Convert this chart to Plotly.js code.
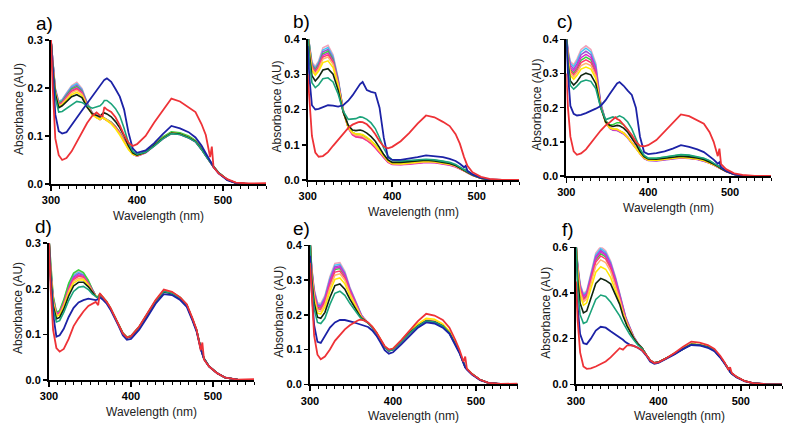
<!DOCTYPE html>
<html><head><meta charset="utf-8">
<script src="https://cdn.plot.ly/plotly-3.0.1.min.js"></script>
<style>html,body{margin:0;padding:0;background:#fff}#chart{width:800px;height:431px}</style>
</head><body><div id="chart"></div>
<script>
// Wavelength grid (nm)
const wavelength = [300,302,305,309,313,318,324,330,336,342,348,353,357,360,362,365,370,375,380,385,390,395,400,410,420,430,440,450,460,468,475,480,485,487,489,495,505,515,530,550];

// ---- Panel a ----
const aPink    = [0.300,0.255,0.200,0.172,0.176,0.190,0.205,0.212,0.199,0.170,0.149, 0.141,0.136,0.139,0.137,0.134,0.128,0.119,0.107,0.091,0.075,0.063,0.059,0.066,0.080,0.095,0.106,0.104,0.097,0.089,0.073,0.059,0.045,0.041,0.036,0.023,0.009,0.002,0,0];
const aCyan    = [0.300,0.253,0.198,0.171,0.175,0.188,0.203,0.209,0.197,0.169,0.148, 0.140,0.135,0.139,0.137,0.134,0.128,0.118,0.106,0.090,0.075,0.063,0.059,0.066,0.080,0.095,0.106,0.104,0.097,0.089,0.073,0.059,0.045,0.041,0.036,0.023,0.009,0.002,0,0];
const aPurple  = [0.300,0.252,0.197,0.169,0.173,0.186,0.200,0.206,0.195,0.168,0.147, 0.139,0.134,0.138,0.136,0.133,0.127,0.118,0.106,0.090,0.074,0.062,0.058,0.065,0.079,0.094,0.105,0.103,0.096,0.088,0.072,0.058,0.044,0.040,0.035,0.022,0.009,0.002,0,0];
const aGreen   = [0.300,0.250,0.195,0.168,0.172,0.184,0.198,0.203,0.193,0.167,0.147, 0.140,0.136,0.140,0.138,0.135,0.129,0.120,0.108,0.092,0.076,0.064,0.060,0.068,0.083,0.098,0.109,0.107,0.100,0.091,0.075,0.060,0.046,0.042,0.037,0.024,0.009,0.002,0,0];
const aMagenta = [0.300,0.249,0.194,0.166,0.170,0.182,0.195,0.200,0.191,0.166,0.146, 0.139,0.134,0.138,0.136,0.133,0.127,0.118,0.106,0.090,0.074,0.062,0.058,0.065,0.079,0.094,0.105,0.103,0.096,0.088,0.072,0.058,0.044,0.040,0.035,0.022,0.009,0.002,0,0];
const aCrimson = [0.300,0.248,0.193,0.165,0.169,0.180,0.193,0.198,0.189,0.165,0.146, 0.139,0.135,0.139,0.137,0.134,0.128,0.119,0.107,0.091,0.075,0.063,0.059,0.066,0.080,0.095,0.106,0.104,0.097,0.089,0.073,0.059,0.045,0.041,0.036,0.023,0.009,0.002,0,0];
const aOrange  = [0.300,0.247,0.192,0.163,0.167,0.178,0.190,0.195,0.187,0.164,0.145, 0.139,0.135,0.139,0.137,0.134,0.127,0.117,0.105,0.089,0.074,0.062,0.059,0.066,0.080,0.095,0.106,0.104,0.097,0.089,0.073,0.059,0.045,0.041,0.036,0.023,0.009,0.002,0,0];
const aYellow  = [0.300,0.245,0.190,0.161,0.165,0.175,0.186,0.191,0.184,0.162,0.144, 0.138,0.134,0.138,0.136,0.132,0.125,0.115,0.102,0.087,0.072,0.062,0.059,0.066,0.080,0.095,0.106,0.104,0.097,0.089,0.073,0.059,0.045,0.041,0.036,0.023,0.009,0.002,0,0];
const aBlack   = [0.300,0.243,0.188,0.159,0.163,0.172,0.182,0.186,0.180,0.160,0.146, 0.143,0.140,0.147,0.148,0.146,0.140,0.130,0.117,0.100,0.080,0.065,0.060,0.066,0.080,0.095,0.106,0.104,0.097,0.089,0.073,0.059,0.045,0.041,0.036,0.023,0.009,0.002,0,0];
const aTeal    = [0.300,0.238,0.180,0.150,0.151,0.157,0.166,0.172,0.170,0.163,0.158, 0.161,0.163,0.168,0.174,0.174,0.167,0.157,0.142,0.116,0.086,0.068,0.062,0.066,0.079,0.094,0.105,0.103,0.096,0.088,0.072,0.058,0.045,0.041,0.036,0.023,0.009,0.002,0,0];
const aBlue    = [0.300,0.230,0.145,0.110,0.105,0.108,0.122,0.138,0.153,0.168,0.183, 0.196,0.206,0.213,0.217,0.220,0.213,0.198,0.182,0.155,0.108,0.074,0.065,0.070,0.085,0.104,0.121,0.116,0.108,0.097,0.080,0.064,0.048,0.042,0.036,0.022,0.008,0.002,0,0];
const aRed     = [0.300,0.200,0.095,0.060,0.050,0.054,0.068,0.088,0.108,0.127,0.142, 0.149,0.143,0.141,0.160,0.155,0.150,0.139,0.122,0.102,0.086,0.079,0.083,0.100,0.128,0.152,0.178,0.172,0.160,0.150,0.125,0.102,0.056,0.078,0.035,0.022,0.010,0.003,0.001,0.002];

// ---- Panel b ----
const bPink    = [0.42,0.380,0.335,0.322,0.338,0.375,0.382,0.355,0.290,0.200,0.152, 0.136,0.129,0.128,0.128,0.125,0.118,0.108,0.096,0.080,0.065,0.053,0.047,0.046,0.048,0.051,0.053,0.052,0.049,0.045,0.040,0.034,0.027,0.025,0.022,0.014,0.005,0.001,0,0];
const bCyan    = [0.42,0.378,0.331,0.318,0.334,0.369,0.376,0.350,0.287,0.199,0.151, 0.134,0.128,0.127,0.127,0.124,0.117,0.107,0.095,0.080,0.065,0.053,0.046,0.045,0.047,0.050,0.052,0.051,0.048,0.044,0.039,0.033,0.027,0.025,0.021,0.013,0.005,0.001,0,0];
const bPurple  = [0.42,0.376,0.328,0.315,0.330,0.364,0.370,0.345,0.284,0.198,0.150, 0.133,0.127,0.126,0.126,0.123,0.116,0.106,0.094,0.079,0.064,0.052,0.046,0.045,0.047,0.050,0.052,0.051,0.048,0.044,0.039,0.033,0.027,0.025,0.021,0.013,0.005,0.001,0,0];
const bGreen   = [0.42,0.374,0.325,0.312,0.327,0.358,0.365,0.341,0.281,0.198,0.150, 0.135,0.130,0.130,0.130,0.127,0.120,0.111,0.099,0.084,0.068,0.056,0.050,0.050,0.052,0.055,0.057,0.056,0.053,0.048,0.042,0.036,0.029,0.030,0.023,0.014,0.005,0.001,0,0];
const bMagenta = [0.42,0.372,0.322,0.309,0.324,0.354,0.360,0.337,0.278,0.196,0.147, 0.128,0.122,0.121,0.121,0.119,0.112,0.103,0.091,0.077,0.062,0.050,0.044,0.043,0.045,0.048,0.050,0.049,0.046,0.042,0.037,0.032,0.026,0.024,0.020,0.013,0.005,0.001,0,0];
const bCrimson = [0.42,0.370,0.319,0.306,0.320,0.349,0.355,0.333,0.275,0.195,0.147, 0.129,0.123,0.122,0.122,0.120,0.113,0.104,0.092,0.078,0.063,0.051,0.045,0.044,0.046,0.049,0.051,0.050,0.047,0.043,0.038,0.032,0.026,0.024,0.020,0.013,0.005,0.001,0,0];
const bOrange  = [0.42,0.368,0.316,0.302,0.316,0.343,0.349,0.328,0.272,0.195,0.148, 0.132,0.127,0.127,0.127,0.124,0.117,0.108,0.096,0.081,0.065,0.053,0.046,0.045,0.047,0.050,0.052,0.051,0.048,0.044,0.039,0.033,0.027,0.025,0.021,0.013,0.005,0.001,0,0];
const bYellow  = [0.42,0.364,0.311,0.297,0.309,0.333,0.338,0.319,0.266,0.194,0.149, 0.135,0.131,0.131,0.131,0.129,0.122,0.112,0.099,0.083,0.067,0.054,0.047,0.046,0.048,0.051,0.053,0.052,0.049,0.045,0.040,0.034,0.027,0.025,0.022,0.014,0.005,0.001,0,0];
const bBlack   = [0.42,0.355,0.296,0.281,0.292,0.312,0.316,0.300,0.255,0.192,0.155, 0.142,0.140,0.141,0.142,0.140,0.133,0.123,0.110,0.092,0.072,0.057,0.050,0.050,0.052,0.054,0.056,0.054,0.051,0.047,0.041,0.035,0.028,0.026,0.022,0.014,0.005,0.001,0,0];
const bTeal    = [0.42,0.340,0.276,0.262,0.270,0.287,0.290,0.278,0.244,0.195,0.172, 0.172,0.174,0.177,0.179,0.178,0.172,0.162,0.146,0.120,0.090,0.068,0.057,0.054,0.055,0.057,0.059,0.057,0.054,0.050,0.044,0.037,0.029,0.027,0.023,0.015,0.006,0.001,0,0];
const bBlue    = [0.38,0.290,0.212,0.200,0.202,0.207,0.212,0.211,0.208,0.212,0.225, 0.240,0.255,0.265,0.272,0.278,0.255,0.250,0.247,0.205,0.120,0.064,0.057,0.057,0.060,0.065,0.070,0.068,0.065,0.060,0.054,0.046,0.036,0.040,0.026,0.016,0.006,0.002,0,0];
const bRed     = [0.30,0.220,0.125,0.078,0.066,0.068,0.079,0.097,0.115,0.133,0.148, 0.157,0.162,0.164,0.165,0.164,0.158,0.146,0.130,0.110,0.095,0.090,0.094,0.110,0.133,0.160,0.183,0.178,0.165,0.153,0.130,0.103,0.065,0.050,0.040,0.022,0.009,0.003,0,0];

// ---- Panel c ----
const cPink    = [0.42,0.370,0.335,0.326,0.342,0.370,0.381,0.370,0.330,0.215,0.162, 0.142,0.137,0.137,0.136,0.132,0.126,0.114,0.099,0.083,0.065,0.053,0.047,0.046,0.049,0.053,0.055,0.053,0.050,0.045,0.039,0.033,0.027,0.025,0.022,0.014,0.005,0.001,0,0];
const cCyan    = [0.42,0.366,0.330,0.320,0.336,0.363,0.374,0.363,0.325,0.213,0.161, 0.141,0.136,0.136,0.135,0.131,0.125,0.113,0.098,0.082,0.065,0.053,0.047,0.046,0.049,0.053,0.055,0.053,0.050,0.045,0.039,0.033,0.027,0.025,0.022,0.014,0.005,0.001,0,0];
const cPurple  = [0.42,0.362,0.324,0.313,0.328,0.355,0.365,0.355,0.318,0.211,0.160, 0.139,0.134,0.134,0.133,0.129,0.123,0.111,0.096,0.080,0.063,0.051,0.045,0.044,0.047,0.051,0.053,0.051,0.048,0.043,0.038,0.032,0.026,0.024,0.021,0.013,0.005,0.001,0,0];
const cGreen   = [0.42,0.354,0.312,0.301,0.315,0.339,0.348,0.340,0.306,0.208,0.162, 0.150,0.150,0.153,0.156,0.156,0.150,0.136,0.117,0.096,0.074,0.059,0.052,0.052,0.055,0.059,0.062,0.060,0.056,0.051,0.044,0.037,0.029,0.031,0.023,0.014,0.005,0.001,0,0];
const cMagenta = [0.42,0.357,0.317,0.307,0.321,0.346,0.356,0.347,0.312,0.209,0.159, 0.140,0.135,0.135,0.134,0.130,0.124,0.112,0.097,0.081,0.064,0.052,0.046,0.045,0.048,0.052,0.054,0.052,0.049,0.044,0.038,0.033,0.026,0.024,0.021,0.013,0.005,0.001,0,0];
const cCrimson = [0.42,0.350,0.307,0.296,0.309,0.332,0.340,0.332,0.300,0.206,0.158, 0.141,0.137,0.137,0.136,0.132,0.126,0.114,0.099,0.083,0.065,0.053,0.047,0.046,0.049,0.053,0.055,0.053,0.050,0.045,0.039,0.033,0.027,0.025,0.022,0.014,0.005,0.001,0,0];
const cOrange  = [0.42,0.345,0.301,0.290,0.302,0.323,0.330,0.323,0.293,0.204,0.157, 0.141,0.137,0.137,0.136,0.132,0.125,0.113,0.098,0.082,0.065,0.053,0.047,0.046,0.049,0.053,0.055,0.053,0.050,0.045,0.039,0.033,0.027,0.025,0.022,0.014,0.005,0.001,0,0];
const cYellow  = [0.42,0.340,0.294,0.283,0.294,0.313,0.319,0.313,0.285,0.202,0.157, 0.141,0.138,0.138,0.137,0.133,0.126,0.113,0.097,0.081,0.065,0.053,0.047,0.046,0.049,0.053,0.055,0.053,0.050,0.045,0.039,0.033,0.027,0.025,0.022,0.014,0.005,0.001,0,0];
const cBlack   = [0.42,0.330,0.278,0.266,0.276,0.294,0.301,0.296,0.270,0.200,0.158, 0.148,0.145,0.148,0.148,0.147,0.140,0.128,0.112,0.093,0.072,0.057,0.050,0.049,0.052,0.056,0.058,0.056,0.053,0.048,0.041,0.035,0.028,0.026,0.022,0.014,0.005,0.001,0,0];
const cTeal    = [0.42,0.318,0.265,0.254,0.263,0.276,0.281,0.277,0.256,0.200,0.165, 0.170,0.173,0.170,0.173,0.176,0.170,0.158,0.138,0.110,0.080,0.060,0.052,0.052,0.056,0.060,0.063,0.061,0.057,0.052,0.045,0.038,0.030,0.027,0.023,0.015,0.005,0.001,0,0];
const cBlue    = [0.40,0.300,0.205,0.182,0.177,0.179,0.184,0.190,0.197,0.205,0.222, 0.240,0.255,0.265,0.271,0.275,0.264,0.250,0.237,0.200,0.115,0.070,0.064,0.067,0.072,0.080,0.090,0.085,0.078,0.070,0.058,0.048,0.036,0.040,0.026,0.015,0.005,0.001,0,0];
const cRed     = [0.30,0.200,0.115,0.072,0.062,0.066,0.078,0.095,0.115,0.133,0.148, 0.157,0.164,0.172,0.167,0.163,0.150,0.135,0.120,0.100,0.088,0.087,0.090,0.105,0.130,0.157,0.180,0.175,0.163,0.153,0.128,0.100,0.058,0.080,0.035,0.020,0.008,0.003,0,0];

// ---- Panel d ----
const dPink    = [0.31,0.248,0.183,0.148,0.151,0.174,0.210,0.232,0.239,0.233,0.217,0.197, 0.184,0.181,0.188,0.182,0.172,0.157,0.140,0.122,0.103,0.093,0.096,0.116,0.144,0.173,0.195,0.191,0.180,0.164,0.133,0.109,0.070,0.055,0.047,0.030,0.015,0.005,0.001,0];
const dCyan    = [0.31,0.246,0.181,0.147,0.150,0.172,0.207,0.229,0.236,0.231,0.215,0.196, 0.184,0.181,0.188,0.182,0.172,0.157,0.140,0.122,0.103,0.093,0.096,0.116,0.144,0.173,0.195,0.191,0.180,0.164,0.133,0.109,0.070,0.055,0.047,0.030,0.015,0.005,0.001,0];
const dPurple  = [0.31,0.244,0.179,0.146,0.149,0.170,0.204,0.226,0.233,0.229,0.214,0.196, 0.184,0.181,0.188,0.182,0.172,0.157,0.140,0.122,0.103,0.093,0.096,0.116,0.144,0.173,0.195,0.191,0.180,0.164,0.133,0.109,0.070,0.055,0.047,0.030,0.015,0.005,0.001,0];
const dGreen   = [0.31,0.250,0.185,0.149,0.152,0.176,0.212,0.234,0.241,0.235,0.218,0.198, 0.185,0.182,0.189,0.183,0.173,0.158,0.141,0.123,0.104,0.094,0.097,0.117,0.145,0.174,0.196,0.192,0.181,0.165,0.134,0.110,0.071,0.056,0.048,0.031,0.015,0.005,0.001,0];
const dMagenta = [0.31,0.242,0.177,0.145,0.148,0.168,0.201,0.223,0.230,0.227,0.212,0.195, 0.184,0.181,0.188,0.182,0.172,0.157,0.140,0.122,0.103,0.093,0.096,0.116,0.144,0.173,0.195,0.191,0.180,0.164,0.133,0.109,0.070,0.055,0.047,0.030,0.015,0.005,0.001,0];
const dCrimson = [0.31,0.240,0.175,0.143,0.146,0.166,0.198,0.220,0.227,0.225,0.211,0.194, 0.184,0.181,0.188,0.182,0.172,0.157,0.140,0.122,0.103,0.093,0.096,0.116,0.144,0.173,0.195,0.191,0.180,0.164,0.133,0.109,0.070,0.055,0.047,0.030,0.015,0.005,0.001,0];
const dOrange  = [0.31,0.238,0.172,0.141,0.144,0.163,0.194,0.216,0.223,0.222,0.209,0.193, 0.184,0.181,0.188,0.182,0.172,0.157,0.140,0.122,0.103,0.093,0.096,0.116,0.144,0.173,0.195,0.191,0.180,0.164,0.133,0.109,0.070,0.055,0.047,0.030,0.015,0.005,0.001,0];
const dYellow  = [0.31,0.235,0.169,0.139,0.142,0.160,0.190,0.212,0.219,0.219,0.207,0.192, 0.184,0.181,0.188,0.182,0.172,0.157,0.140,0.122,0.103,0.093,0.096,0.116,0.144,0.173,0.195,0.191,0.180,0.164,0.133,0.109,0.070,0.055,0.047,0.030,0.015,0.005,0.001,0];
const dBlack   = [0.31,0.230,0.163,0.134,0.137,0.155,0.184,0.206,0.214,0.214,0.204,0.191, 0.183,0.180,0.187,0.181,0.171,0.156,0.139,0.121,0.102,0.092,0.095,0.115,0.143,0.172,0.193,0.189,0.178,0.163,0.132,0.108,0.069,0.055,0.047,0.030,0.015,0.005,0.001,0];
const dTeal    = [0.31,0.220,0.155,0.127,0.130,0.148,0.174,0.194,0.203,0.205,0.198,0.188, 0.183,0.180,0.187,0.181,0.171,0.156,0.139,0.121,0.102,0.093,0.096,0.116,0.144,0.173,0.194,0.190,0.179,0.164,0.133,0.109,0.070,0.055,0.047,0.030,0.015,0.005,0.001,0];
const dBlue    = [0.30,0.220,0.145,0.095,0.098,0.112,0.138,0.158,0.170,0.175,0.178,0.177, 0.175,0.177,0.181,0.177,0.168,0.154,0.137,0.118,0.098,0.088,0.090,0.110,0.138,0.167,0.188,0.186,0.175,0.160,0.130,0.106,0.068,0.055,0.046,0.030,0.015,0.005,0.001,0];
const dRed     = [0.30,0.200,0.110,0.070,0.062,0.068,0.090,0.118,0.135,0.150,0.162,0.168, 0.171,0.164,0.190,0.183,0.172,0.158,0.140,0.121,0.102,0.093,0.096,0.117,0.145,0.175,0.198,0.193,0.181,0.166,0.135,0.110,0.065,0.082,0.045,0.030,0.015,0.005,0.001,0.002];

// ---- Panel e ----
const ePink    = [0.42,0.340,0.275,0.235,0.232,0.256,0.310,0.348,0.350,0.325,0.280,0.250,0.225,0.210,0.200,0.190, 0.177,0.164,0.148,0.128,0.107,0.097,0.100,0.123,0.148,0.168,0.183,0.180,0.168,0.148,0.115,0.093,0.062,0.050,0.044,0.030,0.013,0.004,0.001,0];
const eCyan    = [0.42,0.337,0.271,0.231,0.228,0.252,0.305,0.343,0.345,0.321,0.277,0.248,0.223,0.208,0.199,0.190, 0.177,0.164,0.148,0.128,0.107,0.097,0.100,0.123,0.148,0.168,0.183,0.180,0.168,0.148,0.115,0.093,0.062,0.050,0.044,0.030,0.013,0.004,0.001,0];
const ePurple  = [0.42,0.334,0.268,0.228,0.225,0.248,0.300,0.338,0.341,0.318,0.275,0.246,0.222,0.207,0.198,0.189, 0.177,0.164,0.148,0.128,0.107,0.097,0.100,0.123,0.148,0.168,0.183,0.180,0.168,0.148,0.115,0.093,0.062,0.050,0.044,0.030,0.013,0.004,0.001,0];
const eGreen   = [0.42,0.328,0.262,0.222,0.219,0.242,0.292,0.330,0.333,0.312,0.270,0.242,0.219,0.205,0.196,0.188, 0.177,0.164,0.148,0.128,0.107,0.097,0.100,0.123,0.148,0.168,0.183,0.180,0.168,0.148,0.115,0.093,0.062,0.050,0.044,0.030,0.013,0.004,0.001,0];
const eMagenta = [0.42,0.331,0.265,0.225,0.222,0.245,0.296,0.334,0.337,0.315,0.273,0.244,0.221,0.206,0.197,0.189, 0.177,0.164,0.148,0.128,0.107,0.097,0.100,0.123,0.148,0.168,0.183,0.180,0.168,0.148,0.115,0.093,0.062,0.050,0.044,0.030,0.013,0.004,0.001,0];
const eCrimson = [0.42,0.325,0.258,0.218,0.215,0.237,0.286,0.323,0.326,0.306,0.266,0.239,0.217,0.204,0.195,0.188, 0.177,0.164,0.148,0.128,0.107,0.097,0.100,0.123,0.148,0.168,0.184,0.181,0.169,0.149,0.115,0.093,0.062,0.050,0.044,0.030,0.013,0.004,0.001,0];
const eOrange  = [0.42,0.320,0.253,0.212,0.209,0.230,0.278,0.314,0.318,0.299,0.262,0.236,0.215,0.202,0.194,0.187, 0.177,0.165,0.149,0.129,0.108,0.098,0.101,0.125,0.151,0.171,0.187,0.184,0.171,0.151,0.117,0.094,0.062,0.050,0.044,0.030,0.013,0.004,0.001,0];
const eYellow  = [0.42,0.315,0.246,0.205,0.202,0.222,0.267,0.302,0.306,0.289,0.255,0.231,0.212,0.200,0.193,0.187, 0.178,0.166,0.150,0.130,0.109,0.099,0.103,0.127,0.153,0.174,0.190,0.187,0.174,0.153,0.118,0.095,0.063,0.051,0.045,0.031,0.013,0.004,0.001,0];
const eBlack   = [0.42,0.305,0.234,0.193,0.190,0.207,0.250,0.284,0.289,0.274,0.245,0.224,0.207,0.197,0.191,0.186, 0.177,0.164,0.148,0.128,0.107,0.097,0.100,0.123,0.148,0.168,0.183,0.180,0.168,0.148,0.115,0.093,0.062,0.050,0.044,0.030,0.013,0.004,0.001,0];
const eTeal    = [0.42,0.290,0.218,0.178,0.175,0.190,0.230,0.262,0.268,0.256,0.233,0.216,0.202,0.194,0.189,0.184, 0.176,0.163,0.147,0.127,0.106,0.096,0.099,0.122,0.147,0.167,0.182,0.179,0.167,0.147,0.114,0.092,0.061,0.050,0.044,0.030,0.013,0.004,0.001,0];
const eBlue    = [0.37,0.270,0.170,0.122,0.119,0.138,0.163,0.178,0.185,0.185,0.182,0.178,0.175,0.173,0.172,0.170, 0.165,0.155,0.140,0.120,0.098,0.088,0.092,0.115,0.140,0.163,0.178,0.175,0.163,0.145,0.113,0.090,0.060,0.048,0.042,0.028,0.012,0.004,0.001,0];
const eRed     = [0.35,0.250,0.140,0.085,0.072,0.080,0.100,0.125,0.143,0.158,0.170,0.178,0.183,0.186,0.186,0.184, 0.178,0.166,0.150,0.130,0.110,0.100,0.103,0.127,0.155,0.182,0.203,0.198,0.185,0.163,0.128,0.100,0.065,0.080,0.045,0.030,0.013,0.004,0.001,0.002];

// ---- Panel f ----
const fPink    = [0.62,0.530,0.440,0.397,0.410,0.490,0.575,0.603,0.585,0.540,0.470, 0.400,0.340,0.300,0.280,0.255,0.210,0.180,0.160, 0.130,0.105,0.094,0.097,0.115,0.135,0.158,0.175,0.172,0.163,0.148,0.120,0.095,0.065,0.056,0.048,0.032,0.014,0.005,0.001,0];
const fCyan    = [0.62,0.525,0.435,0.392,0.405,0.483,0.567,0.595,0.578,0.534,0.465, 0.396,0.337,0.298,0.278,0.253,0.209,0.180,0.160, 0.130,0.105,0.094,0.097,0.115,0.135,0.158,0.175,0.172,0.163,0.148,0.120,0.095,0.065,0.056,0.048,0.032,0.014,0.005,0.001,0];
const fPurple  = [0.62,0.520,0.430,0.387,0.400,0.476,0.559,0.587,0.571,0.528,0.460, 0.392,0.334,0.296,0.276,0.251,0.208,0.179,0.160, 0.130,0.105,0.094,0.097,0.115,0.135,0.158,0.175,0.172,0.163,0.148,0.120,0.095,0.065,0.056,0.048,0.032,0.014,0.005,0.001,0];
const fGreen   = [0.62,0.512,0.420,0.377,0.390,0.464,0.545,0.572,0.558,0.516,0.450, 0.384,0.328,0.292,0.272,0.248,0.206,0.178,0.160, 0.130,0.105,0.094,0.097,0.115,0.136,0.159,0.176,0.173,0.164,0.149,0.121,0.096,0.066,0.057,0.049,0.032,0.014,0.005,0.001,0];
const fMagenta = [0.62,0.515,0.425,0.382,0.395,0.470,0.552,0.580,0.565,0.522,0.455, 0.388,0.331,0.294,0.274,0.250,0.207,0.179,0.160, 0.130,0.105,0.094,0.097,0.115,0.135,0.158,0.175,0.172,0.163,0.148,0.120,0.095,0.065,0.056,0.048,0.032,0.014,0.005,0.001,0];
const fCrimson = [0.62,0.508,0.415,0.371,0.384,0.456,0.535,0.562,0.549,0.508,0.443, 0.379,0.324,0.289,0.270,0.246,0.205,0.178,0.160, 0.130,0.105,0.094,0.097,0.115,0.135,0.158,0.175,0.172,0.163,0.148,0.120,0.095,0.065,0.056,0.048,0.032,0.014,0.005,0.001,0];
const fOrange  = [0.62,0.500,0.405,0.361,0.373,0.443,0.519,0.545,0.533,0.494,0.432, 0.371,0.318,0.285,0.266,0.243,0.203,0.177,0.160, 0.130,0.105,0.094,0.097,0.115,0.135,0.158,0.175,0.172,0.163,0.148,0.120,0.095,0.065,0.056,0.048,0.032,0.014,0.005,0.001,0];
const fYellow  = [0.62,0.490,0.390,0.346,0.357,0.420,0.491,0.515,0.504,0.468,0.412, 0.357,0.308,0.278,0.260,0.239,0.201,0.176,0.160, 0.130,0.105,0.094,0.097,0.115,0.136,0.159,0.176,0.173,0.164,0.149,0.121,0.096,0.065,0.056,0.048,0.032,0.014,0.005,0.001,0];
const fBlack   = [0.62,0.460,0.355,0.313,0.321,0.377,0.442,0.464,0.455,0.440,0.390, 0.350,0.300,0.272,0.255,0.235,0.202,0.177,0.160, 0.130,0.105,0.094,0.097,0.115,0.135,0.158,0.175,0.172,0.163,0.148,0.120,0.095,0.065,0.056,0.048,0.032,0.014,0.005,0.001,0];
const fTeal    = [0.62,0.410,0.305,0.267,0.273,0.318,0.372,0.391,0.385,0.360,0.330, 0.300,0.270,0.250,0.238,0.220,0.195,0.172,0.158, 0.129,0.104,0.093,0.096,0.114,0.134,0.157,0.174,0.171,0.162,0.147,0.119,0.094,0.064,0.055,0.047,0.031,0.014,0.005,0.001,0];
const fBlue    = [0.42,0.330,0.220,0.180,0.176,0.200,0.235,0.252,0.248,0.232,0.218, 0.207,0.195,0.185,0.180,0.174,0.168,0.160,0.148, 0.127,0.100,0.090,0.094,0.112,0.132,0.155,0.172,0.170,0.160,0.145,0.117,0.092,0.063,0.054,0.046,0.030,0.013,0.005,0.001,0];
const fRed     = [0.45,0.280,0.140,0.078,0.068,0.070,0.078,0.088,0.100,0.118,0.140, 0.158,0.152,0.163,0.170,0.172,0.168,0.160,0.150, 0.130,0.105,0.093,0.096,0.115,0.138,0.165,0.187,0.183,0.172,0.155,0.125,0.098,0.065,0.075,0.050,0.032,0.014,0.005,0.001,0];

// ---- Styling / structure ----
const seriesOrder = ['pink','cyan','purple','green','magenta','crimson','orange','yellow','black','teal','blue','red'];
const seriesColor = {pink:'#f2a3ba', cyan:'#45c6f2', purple:'#9c52d2', green:'#36d23c', magenta:'#d92cd0', crimson:'#ff3b6e',
  orange:'#ffb26e', yellow:'#ffe800', black:'#102510', teal:'#1ba37a', blue:'#1c22a6', red:'#ee3237'};
const seriesWidth = {pink:1.5, cyan:1.5, purple:1.5, green:1.5, magenta:1.5, crimson:1.5, orange:1.5, yellow:1.5, black:1.6, teal:1.6, blue:1.8, red:1.8};

const panelSeries = [
  {pink:aPink,cyan:aCyan,purple:aPurple,green:aGreen,magenta:aMagenta,crimson:aCrimson,orange:aOrange,yellow:aYellow,black:aBlack,teal:aTeal,blue:aBlue,red:aRed},
  {pink:bPink,cyan:bCyan,purple:bPurple,green:bGreen,magenta:bMagenta,crimson:bCrimson,orange:bOrange,yellow:bYellow,black:bBlack,teal:bTeal,blue:bBlue,red:bRed},
  {pink:cPink,cyan:cCyan,purple:cPurple,green:cGreen,magenta:cMagenta,crimson:cCrimson,orange:cOrange,yellow:cYellow,black:cBlack,teal:cTeal,blue:cBlue,red:cRed},
  {pink:dPink,cyan:dCyan,purple:dPurple,green:dGreen,magenta:dMagenta,crimson:dCrimson,orange:dOrange,yellow:dYellow,black:dBlack,teal:dTeal,blue:dBlue,red:dRed},
  {pink:ePink,cyan:eCyan,purple:ePurple,green:eGreen,magenta:eMagenta,crimson:eCrimson,orange:eOrange,yellow:eYellow,black:eBlack,teal:eTeal,blue:eBlue,red:eRed},
  {pink:fPink,cyan:fCyan,purple:fPurple,green:fGreen,magenta:fMagenta,crimson:fCrimson,orange:fOrange,yellow:fYellow,black:fBlack,teal:fTeal,blue:fBlue,red:fRed}
];
const panelLabels = ['a)','b)','c)','d)','e)','f)'];
const yMax  = [0.3,0.4,0.4,0.3,0.4,0.6];
const yStep = [0.1,0.1,0.1,0.1,0.1,0.2];
const xTitle = 'Wavelength (nm)';
const yTitle = 'Absorbance (AU)';

// Layout geometry in pixels (plot-area boxes)
const W = 800, H = 431;
const boxes = [
  {l:51,   r:266,   t:40,    b:184},
  {l:307.7,r:519,   t:39,    b:180},
  {l:566.3,r:771,   t:39.3,  b:176},
  {l:49,   r:254,   t:243,   b:380},
  {l:310,  r:517.5, t:245.3, b:384.3},
  {l:576,  r:782,   t:247.3, b:384.3}
];
const labelPos  = [[44,23],[301,22],[565,21],[43.5,227],[301.5,228],[567.5,229]];
const yTitlePos = [19,276,537,17.5,279,546];

const traces = [];
const layout = {
  width: W, height: H, margin: {l:0, r:0, t:0, b:0}, showlegend: false,
  paper_bgcolor: '#ffffff', plot_bgcolor: '#ffffff',
  font: {family: 'Liberation Sans, Arial, sans-serif', color: '#000'},
  annotations: []
};

panelSeries.forEach((ps, i) => {
  const n = i === 0 ? '' : String(i + 1);
  seriesOrder.forEach(name => {
    traces.push({
      x: wavelength, y: ps[name], xaxis: 'x' + n, yaxis: 'y' + n,
      type: 'scatter', mode: 'lines', name: name,
      line: {color: seriesColor[name], width: seriesWidth[name]},
      hoverinfo: 'skip', showlegend: false
    });
  });
  const bx = boxes[i];
  layout['xaxis' + n] = {
    domain: [bx.l / W, bx.r / W], anchor: 'y' + n, range: [300, 550],
    tick0: 300, dtick: 100, ticks: 'outside', ticklen: 5, tickwidth: 1.5, tickcolor: '#000',
    showline: true, linecolor: '#000', linewidth: 2, showgrid: false, zeroline: false,
    tickfont: {size: 11, weight: 'bold', color: '#000'},
    minor: {tick0: 300, dtick: 10, ticks: 'outside', ticklen: 3, tickwidth: 1, tickcolor: '#000', showgrid: false},
    fixedrange: true
  };
  layout['yaxis' + n] = {
    domain: [1 - bx.b / H, 1 - bx.t / H], anchor: 'x' + n, range: [0, yMax[i]],
    tick0: 0, dtick: yStep[i], tickformat: '.1f', ticks: 'outside', ticklen: 4, tickwidth: 1.5, tickcolor: '#000',
    showline: true, linecolor: '#000', linewidth: 2, showgrid: false, zeroline: false,
    tickfont: {size: 11, weight: 'bold', color: '#000'}, fixedrange: true
  };
  layout.annotations.push({
    text: panelLabels[i], xref: 'paper', yref: 'paper', x: labelPos[i][0] / W, y: 1 - labelPos[i][1] / H,
    xanchor: 'center', yanchor: 'middle', showarrow: false, font: {size: 19, color: '#000'}
  });
  layout.annotations.push({
    text: xTitle, xref: 'paper', yref: 'paper', x: (bx.l + bx.r) / 2 / W, y: 1 - (bx.b + 32) / H,
    xanchor: 'center', yanchor: 'middle', showarrow: false, font: {size: 12, color: '#222'}
  });
  layout.annotations.push({
    text: yTitle, xref: 'paper', yref: 'paper', x: yTitlePos[i] / W, y: 1 - ((bx.t + bx.b) / 2 - 3) / H,
    xanchor: 'center', yanchor: 'middle', textangle: -90, showarrow: false, font: {size: 12, color: '#222'}
  });
});

Plotly.newPlot('chart', traces, layout, {displayModeBar: false, staticPlot: true});
</script>
</body></html>
